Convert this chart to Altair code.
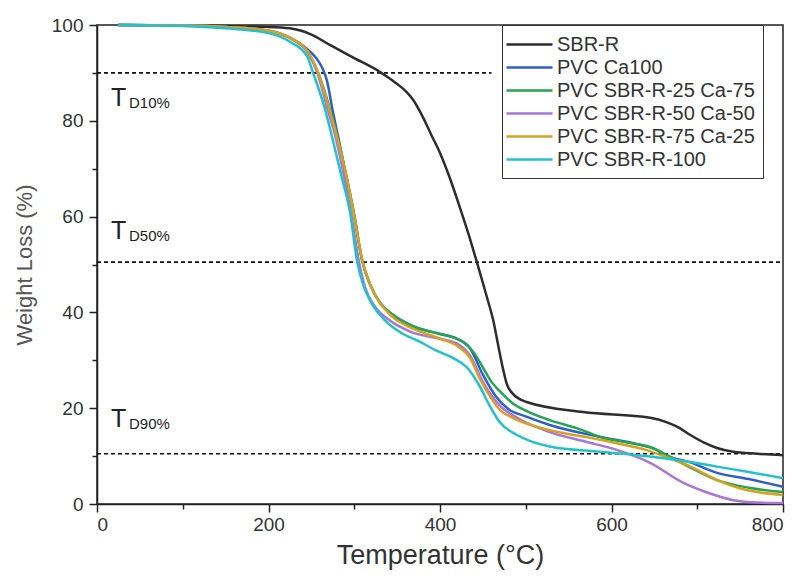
import altair as alt
import pandas as pd

series_names = ["SBR-R", "PVC Ca100", "PVC SBR-R-25 Ca-75",
                "PVC SBR-R-50 Ca-50", "PVC SBR-R-75 Ca-25", "PVC SBR-R-100"]
series_colors = ["#2d2d2d", "#2f5fcf", "#22a650", "#a776d8", "#d8a11f", "#22c2cc"]

sbr_t = [25, 100, 200, 225, 250, 272, 300, 330, 350, 360, 369, 378, 390, 400, 412,
         423, 433, 443, 449, 455, 462, 468, 473, 478, 484, 501, 567, 645, 664, 678,
         692, 708, 723, 742, 770, 800]
sbr_w = [100, 99.9, 99.6, 99.3, 98, 95.8, 93.1, 90.2, 87.7, 86.2, 84.3, 81.5, 77,
         73.3, 67.8, 62, 56.5, 50.5, 46.8, 43, 38.4, 33, 28.6, 25, 23.2, 21.3, 19.2,
         18.0, 17.1, 16, 14.4, 12.8, 11.7, 10.9, 10.5, 10.2]

ca_t = [25, 100, 150, 200, 225, 245, 256, 262, 268, 275, 282, 290, 300, 309, 318, 330,
        345, 370, 400, 420, 435, 450, 465, 480, 500, 528, 587, 630, 650, 665, 690,
        723, 760, 800]
ca_w = [100, 99.9, 99.6, 98.8, 97.3, 95, 93, 91.3, 88.5, 82, 76, 69, 60, 51, 46, 42,
        39.5, 37, 35.5, 34.5, 32.5, 27, 22.5, 19.8, 18.3, 16.5, 14, 12.5, 11.5, 10,
        8.8, 6.5, 5.2, 3.6]

s25_t = [25, 100, 150, 200, 225, 245, 258, 270, 280, 289, 300, 309, 318, 330, 345,
         370, 400, 415, 427, 440, 450, 460, 470, 485, 500, 528, 560, 587, 620, 645,
         665, 690, 723, 760, 800]
s25_w = [100, 99.9, 99.6, 98.8, 97.3, 94.5, 90, 83.5, 77, 70, 60.5, 51, 46, 42,
         39.5, 37, 35.5, 34.8, 33.8, 31.5, 28.5, 25.5, 23.5, 21, 19.5, 17.5, 15.8,
         14, 12.8, 11.9, 10.2, 7.8, 5, 3.4, 2.5]

s50_t = [25, 100, 150, 200, 225, 245, 257, 268, 279, 288, 297, 305, 313, 325, 340,
         365, 400, 420, 435, 450, 470, 490, 528, 570, 606, 645, 684, 710, 742, 770,
         800]
s50_w = [100, 99.9, 99.6, 98.8, 97.3, 94.5, 90, 83, 76, 68.5, 60, 51, 45, 41, 38.5,
         36, 34.5, 33.5, 31, 25.5, 20.5, 18, 15, 13, 11.3, 8.6, 4.4, 2.5, 0.8, 0.3,
         0.2]

s75_t = [25, 100, 150, 200, 225, 245, 258, 270, 280, 291, 300, 310, 318, 328, 345,
         370, 400, 420, 435, 447, 460, 470, 485, 528, 570, 606, 640, 664, 690, 723,
         760, 800]
s75_w = [100, 99.9, 99.6, 98.8, 97.3, 94.7, 90, 83, 76.5, 68.3, 60, 50.5, 46, 42.5,
         39, 36.5, 34.5, 33, 30.5, 26, 22, 19.6, 18, 15.4, 14, 12.7, 11.3, 9.8, 8,
         5, 2.8, 1.9]

s100_t = [25, 100, 150, 200, 225, 245, 252, 265, 275, 285, 295, 303, 310, 320, 335,
          357, 375, 396, 415, 431, 445, 458, 470, 490, 528, 587, 645, 690, 723, 760,
          800]
s100_w = [100, 99.8, 99.3, 98.3, 96.5, 93.5, 90, 83, 76, 68.5, 61, 51, 46, 42,
          38.5, 35.5, 34, 32, 30.5, 28.6, 25, 20.5, 17, 14.4, 12, 10.9, 9.9, 8.8,
          7.8, 6.7, 5.4]

series_t = [sbr_t, ca_t, s25_t, s50_t, s75_t, s100_t]
series_w = [sbr_w, ca_w, s25_w, s50_w, s75_w, s100_w]

ref_levels = [90, 50.5, 10.5]
ref_x_end = [460, 800, 800]

label_main = ["T", "T", "T"]
label_sub = ["D10%", "D50%", "D90%"]
label_w = [83, 55.3, 16]

rows = []
for order, (name, ts, ws) in enumerate(zip(series_names, series_t, series_w)):
    for t, w in zip(ts, ws):
        rows.append({"series": name, "order": order, "T": t, "W": w})
df = pd.DataFrame(rows)

ref_df = pd.DataFrame({"level": ref_levels, "x0": [0] * 3, "x1": ref_x_end})
lab_df = pd.DataFrame({"main": label_main, "sub": label_sub, "W": label_w})

FONT = "Liberation Sans"

xscale = alt.Scale(domain=[0, 800], nice=False)
yscale = alt.Scale(domain=[0, 100], nice=False)

x_axis = alt.Axis(
    values=list(range(0, 801, 100)),
    labelExpr="datum.value % 200 == 0 ? datum.label : ''",
    tickSize={"condition": {"test": "datum.value % 200 == 0", "value": 8}, "value": 5},
    title="Temperature (°C)", titleFontSize=27, titleColor="#333",
    titleFontWeight="normal", titlePadding=8, labelPadding=3,
)
y_axis = alt.Axis(
    values=list(range(0, 101, 10)),
    labelExpr="datum.value % 20 == 0 ? datum.label : ''",
    tickSize={"condition": {"test": "datum.value % 20 == 0", "value": 8}, "value": 5},
    title="Weight Loss (%)", titleFontSize=22, titleColor="#555",
    titleFontWeight="normal", titlePadding=15, labelPadding=6,
)

lines = alt.Chart(df).mark_line(strokeWidth=2.5, interpolate="monotone").encode(
    x=alt.X("T:Q", scale=xscale, axis=x_axis),
    y=alt.Y("W:Q", scale=yscale, axis=y_axis),
    color=alt.Color(
        "series:N",
        scale=alt.Scale(domain=series_names, range=series_colors),
        sort=series_names,
        legend=alt.Legend(
            orient="none", legendX=405, legendY=0, title=None,
            symbolType="M-2.3,0L2.3,0", symbolSize=400, symbolStrokeWidth=2.5,
            symbolOffset=8,
            labelFont=FONT, labelFontSize=20, labelColor="#333", labelOffset=16,
            labelLimit=400,
            strokeColor="#333", fillColor="white", padding=8, rowPadding=1,
            offset=0,
        ),
    ),
    order="order:O",
    detail="series:N",
)

rules = alt.Chart(ref_df).mark_rule(color="#111", strokeWidth=1.6, strokeDash=[4, 3]).encode(
    x="x0:Q", x2="x1:Q", y="level:Q"
)

t_main = alt.Chart(lab_df).mark_text(
    align="left", baseline="alphabetic", font=FONT, fontSize=25, color="#222"
).encode(x=alt.value(14), y="W:Q", text="main:N")

t_sub = alt.Chart(lab_df).mark_text(
    align="left", baseline="alphabetic", font=FONT, fontSize=15, color="#222", dy=2
).encode(x=alt.value(32), y="W:Q", text="sub:N")

chart = alt.layer(rules, lines, t_main, t_sub).properties(
    width=686, height=479,
    autosize=alt.AutoSizeParams(type="none"),
    padding={"left": 89, "top": 17, "right": 10, "bottom": 72},
).configure_view(
    stroke="#222", strokeWidth=1.5
).configure_axis(
    grid=False, domainColor="#222", domainWidth=1.5, tickColor="#222", tickWidth=1.5,
    labelFont=FONT, labelFontSize=19, labelColor="#333", titleFont=FONT,
)

chart.save("out.html", embed_options={"renderer": "svg", "actions": False})
